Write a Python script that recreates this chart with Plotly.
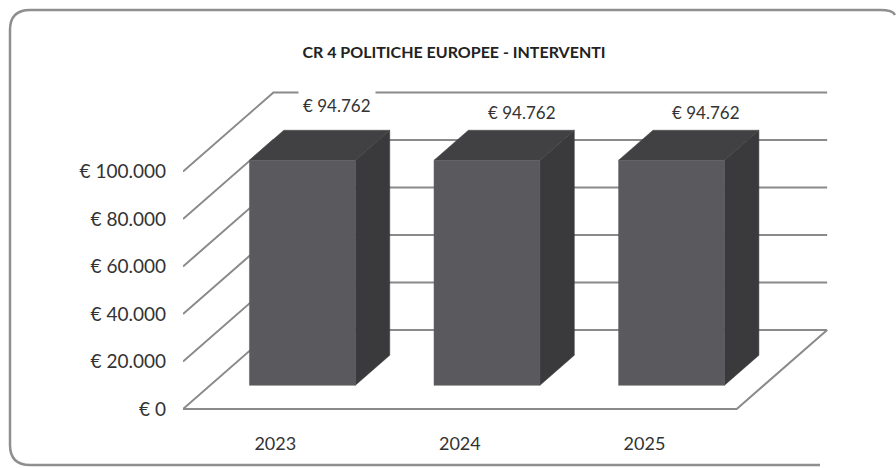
import plotly.graph_objects as go

categories = ["2023", "2024", "2025"]
values = [94762, 94762, 94762]
value_labels = ["€ 94.762", "€ 94.762", "€ 94.762"]
tick_values = [0, 20000, 40000, 60000, 80000, 100000]
tick_labels = ["€ 0", "€ 20.000", "€ 40.000", "€ 60.000", "€ 80.000", "€ 100.000"]

# oblique projection used to fake the Excel 3D look (axis units per full depth)
DX = 0.49
DY = 33260
D0, D1 = 0.30, 0.68      # front / back of the bars inside the depth
HALF = 0.287             # half bar width in category units

FRONT = "#5a5a5e"
TOP = "#414143"
SIDE = "#3a3a3c"
GRID = "#8a8a8a"
TXT = "#333333"
FONT = "Lato, Roboto, sans-serif"

# plot area in pixels (for the paper-space border)
L, R, T, B = 183, 67, 60, 40
W, H = 896 - L - R, 468 - T - B


def paper(x, y):
    return f"{(x - L) / W:.5f},{(468 - B - y) / H:.5f}"


fig = go.Figure()

# back wall gridlines + left wall diagonals
gx, gy = [], []
x_left, x_right = -0.5, len(categories) - 0.5
for v in tick_values:
    gx += [x_left, x_left + DX, x_right + DX, None]
    gy += [v, v + DY, v + DY, None]
# floor front edge and right edge
gx += [x_left, x_right, x_right + DX, None]
gy += [0, 0, DY, None]
fig.add_trace(go.Scatter(x=gx, y=gy, mode="lines", line=dict(color=GRID, width=2),
                         hoverinfo="skip", showlegend=False))

# 3D bars: side, top, front faces
dd = D1 - D0
for i, v in enumerate(values):
    xl, xr = i - HALF + D0 * DX, i + HALF + D0 * DX
    yb, yt = D0 * DY, v + D0 * DY
    ox, oy = dd * DX, dd * DY
    faces = [
        ([xr, xr + ox, xr + ox, xr, xr], [yb, yb + oy, yt + oy, yt, yb], SIDE),
        ([xl, xr, xr + ox, xl + ox, xl], [yt, yt, yt + oy, yt + oy, yt], TOP),
        ([xl, xr, xr, xl, xl], [yb, yb, yt, yt, yb], FRONT),
    ]
    for fx, fy, c in faces:
        fig.add_trace(go.Scatter(x=fx, y=fy, mode="lines", fill="toself", fillcolor=c,
                                 line=dict(color=c, width=0.5), hoverinfo="skip",
                                 showlegend=False))

# data labels
yshifts = [25, 18, 18]
for i, (v, lab) in enumerate(zip(values, value_labels)):
    fig.add_annotation(x=i + 0.336, y=v + D1 * DY, text=lab, showarrow=False,
                       yshift=yshifts[i], bgcolor="white", borderpad=4,
                       font=dict(family=FONT, size=17, color=TXT))

# rounded chart border (right side runs off the picture)
path = (f"M {paper(820, 465)} L {paper(30, 465)} Q {paper(10, 465)} {paper(10, 445)} "
        f"L {paper(10, 30)} Q {paper(10, 10)} {paper(30, 10)} "
        f"L {paper(880, 10)} Q {paper(893, 10)} {paper(895, 15)}")
fig.add_shape(type="path", path=path, xref="paper", yref="paper",
              line=dict(color="#8f8f8f", width=2.5), layer="above")

fig.update_layout(
    width=896, height=468,
    margin=dict(l=L, r=R, t=T, b=B, autoexpand=False),
    paper_bgcolor="white", plot_bgcolor="white",
    title=dict(text="<b>CR 4 POLITICHE EUROPEE - INTERVENTI</b>", x=454 / 896, y=1 - 52 / 468,
               xanchor="center", yanchor="middle", yref="container",
               font=dict(family=FONT, size=16, color="#222222")),
    xaxis=dict(range=[-0.5, 3.0], tickvals=list(range(len(categories))), ticktext=categories,
               showgrid=False, zeroline=False, showline=False, ticks="", automargin=False,
               ticklabelstandoff=3, tickfont=dict(family=FONT, size=18, color=TXT)),
    yaxis=dict(range=[-8000, 146947], tickvals=tick_values, ticktext=tick_labels,
               showgrid=False, zeroline=False, showline=False, ticks="", automargin=False,
               ticklabelstandoff=16, tickfont=dict(family=FONT, size=19, color=TXT)),
    showlegend=False,
)

fig.write_html("out.html", config={"displayModeBar": False},
               post_script="document.body.style.margin = '0';")
